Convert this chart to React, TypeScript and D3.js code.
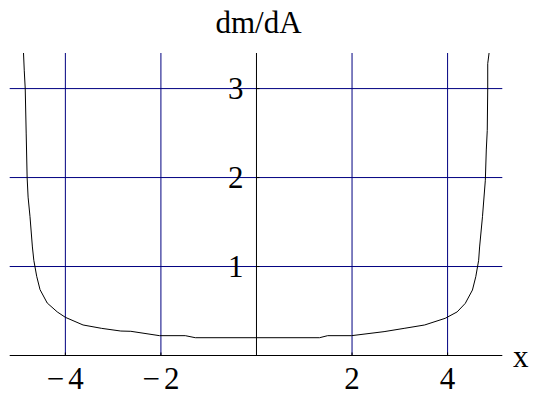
import React from "react";
import * as d3 from "d3";

// Sampled curve of dm/dA against x
const curveX = [
  -4.88, -4.86, -4.84, -4.82, -4.80, -4.78, -4.74, -4.69, -4.66, -4.60, -4.53, -4.38,
  -4.17, -4.0, -3.63, -3.24, -2.84, -2.63, -2.03, -1.49, -1.28, 0, 1.32, 1.49, 1.99,
  2.67, 3.09, 3.52, 3.95, 4.20, 4.37, 4.52, 4.59, 4.65, 4.67, 4.73, 4.79, 4.81, 4.83,
  4.84, 4.84, 4.88,
];
const curveY = [
  3.45, 3.2, 3.0, 2.5, 2.0, 1.78, 1.56, 1.22, 1.07, 0.89, 0.74, 0.59,
  0.49, 0.429, 0.343, 0.305, 0.275, 0.272, 0.223, 0.223, 0.2, 0.2, 0.2, 0.223, 0.223,
  0.268, 0.305, 0.343, 0.418, 0.49, 0.586, 0.736, 0.886, 1.07, 1.22, 1.56, 1.97, 2.31, 2.53,
  3.0, 3.28, 3.45,
];

const xTicks = [-4, -2, 2, 4];
const yTicks = [1, 2, 3];
const xGrid = [-4, -2, 2, 4];
const yGrid = [1, 2, 3];

const W = 534;
const H = 397;
const SERIF = "Liberation Serif";
const FS = 31;

export default function App() {
  const x = d3.scaleLinear().domain([-5.165, 5.145]).range([9.7, 502.3]);
  const y = d3.scaleLinear().domain([0, 3.4]).range([355.5, 53]);

  const pts: [number, number][] = curveX.map((v, i) => [v, curveY[i]]);
  const line = d3
    .line<[number, number]>()
    .x((d) => x(d[0]))
    .y((d) => y(d[1]));

  const [x0, x1] = x.range();
  const [y0, y1] = y.range();

  const label = (v: number) =>
    v < 0 ? (
      <>
        <tspan>{"\u2212"}</tspan>
        <tspan dx={4}>{String(Math.abs(v))}</tspan>
      </>
    ) : (
      String(v)
    );

  return (
    <svg
      width={W}
      height={H}
      style={{ position: "fixed", left: 0, top: 0, background: "#fff" }}
    >
      <defs>
        <clipPath id="plotClip">
          <rect x={x0} y={y1} width={x1 - x0} height={y0 - y1} />
        </clipPath>
      </defs>

      {/* grid */}
      <g stroke="#000080" strokeWidth={1}>
        {xGrid.map((v) => (
          <line key={"gx" + v} x1={x(v)} x2={x(v)} y1={y1} y2={y0} />
        ))}
        {yGrid.map((v) => (
          <line key={"gy" + v} x1={x0} x2={x1} y1={y(v)} y2={y(v)} />
        ))}
      </g>

      {/* axes */}
      <g stroke="#000" strokeWidth={1}>
        <line x1={x0} x2={x1} y1={y(0)} y2={y(0)} />
        <line x1={x(0)} x2={x(0)} y1={y1} y2={y0} />
        {xTicks.map((v) => (
          <line key={"tx" + v} x1={x(v)} x2={x(v)} y1={y(0)} y2={y(0) - 3} />
        ))}
        {yTicks.map((v) => (
          <line key={"ty" + v} x1={x(0)} x2={x(0) + 3} y1={y(v)} y2={y(v)} />
        ))}
      </g>

      {/* curve */}
      <path
        d={line(pts) || ""}
        fill="none"
        stroke="#000"
        strokeWidth={1}
        clipPath="url(#plotClip)"
      />

      <g fontFamily={SERIF} fontSize={FS} style={{ fontFamily: SERIF, fontSize: FS + "px" }}>
        {/* tick labels */}
        {xTicks.map((v) => (
          <text key={"lx" + v} x={x(v)} y={389} textAnchor="middle">
            {label(v)}
          </text>
        ))}
        {yTicks.map((v) => (
          <text key={"ly" + v} x={x(0) - 13} y={y(v) + 10} textAnchor="end">
            {label(v)}
          </text>
        ))}

        {/* axis labels */}
        <text x={x(0) + 2} y={33} textAnchor="middle">
          dm/dA
        </text>
        <text x={513} y={367}>
          x
        </text>
      </g>
    </svg>
  );
}
